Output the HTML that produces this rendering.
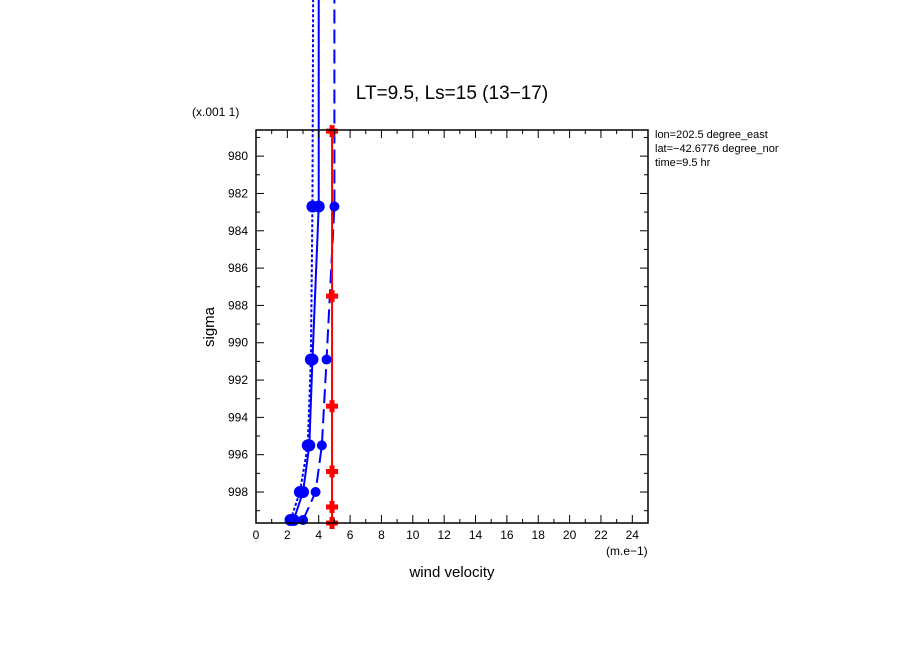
<!DOCTYPE html>
<html><head><meta charset="utf-8"><style>
body{margin:0;background:#fff;}
svg{display:block;font-family:"Liberation Sans",sans-serif;}
</style></head><body>
<svg id="chart" width="904" height="654" viewBox="0 0 904 654" xmlns="http://www.w3.org/2000/svg">
<defs><clipPath id="infoclip"><rect x="650" y="120" width="129" height="60"/></clipPath></defs>
<g id="series"></g>
<g id="axes"></g>
<text x="452" y="99" font-size="19" text-anchor="middle">LT=9.5, Ls=15 (13−17)</text>
<text x="192" y="116" font-size="12">(x.001 1)</text>
<text x="606" y="555" font-size="12">(m.e−1)</text>
<text x="452" y="577" font-size="15" text-anchor="middle">wind velocity</text>
<text x="214" y="327" font-size="15" text-anchor="middle" transform="rotate(-90 214 327)">sigma</text>
<g font-size="11" clip-path="url(#infoclip)">
<text x="655" y="138">lon=202.5 degree_east</text>
<text x="655" y="152">lat=−42.6776 degree_north</text>
<text x="655" y="166">time=9.5 hr</text>
</g>
</svg>
<script>
const xTicks=[0,2,4,6,8,10,12,14,16,18,20,22,24];
const yTicks=[980,982,984,986,988,990,992,994,996,998];
const blueLevels=[999.5,998.0,995.5,990.9,982.7,970];
const dottedA=[2.2,2.8,3.3,3.5,3.6,3.65];
const solidB=[2.4,3.0,3.4,3.6,4.0,4.0];
const dashedC=[3.0,3.8,4.2,4.5,5.0,5.0];
const redLevels=[999.66,998.8,996.9,993.4,987.5,978.66];
const redVals=[4.85,4.85,4.85,4.85,4.85,4.85];
const L=256,R=648,T=130,B=523,xMin=0,xMax=25,yMin=978.6,yMax=999.66;
const sx=v=>L+(v-xMin)/(xMax-xMin)*(R-L);
const sy=v=>T+(v-yMin)/(yMax-yMin)*(B-T);
const NS="http://www.w3.org/2000/svg";
function mk(t,a,p){const e=document.createElementNS(NS,t);for(const k in a)e.setAttribute(k,a[k]);p.appendChild(e);return e;}
const S=document.getElementById('series'),A=document.getElementById('axes');
function line(vals,levels,color,dash,name){
  const pl=mk('polyline',{points:vals.map((v,i)=>sx(v)+','+sy(levels[i])).join(' '),fill:'none',stroke:color,'stroke-width':2,'stroke-dasharray':dash},S);
  
  
}
line(dottedA,blueLevels,'#0000ff','3,2','series-dotted');
line(solidB,blueLevels,'#0000ff','none','series-solid');
line(dashedC,blueLevels,'#0000ff','14,6','series-dashed');
line(redVals,redLevels,'#ff0000','none','series-red');
[[dottedA,6],[solidB,6],[dashedC,5]].forEach(([vals,r])=>{
  vals.forEach((v,i)=>{if(blueLevels[i]<yMin)return;
    const c=mk('circle',{cx:sx(v),cy:sy(blueLevels[i]),r:r,fill:'#0000ff'},S);
    
    
  });
});
redVals.forEach((v,i)=>{
  const g=mk('g',{fill:'#ff0000'},S);
  
  
  const x=sx(v),y=sy(redLevels[i]);
  mk('rect',{x:x-6,y:y-2.5,width:12,height:5},g);
  mk('rect',{x:x-2.5,y:y-6,width:5,height:12},g);
});
const frame=mk('rect',{x:L,y:T,width:R-L,height:B-T,fill:'none',stroke:'#000','stroke-width':1.5},A);


for(let v=0;v<=25;v++){
  const len=v%2===0?8:4,x=sx(v);
  mk('line',{x1:x,y1:B,x2:x,y2:B-len,stroke:'#000'},A);
  mk('line',{x1:x,y1:T,x2:x,y2:T+len,stroke:'#000'},A);
}
xTicks.forEach(v=>{const t=mk('text',{x:sx(v),y:B+16,'font-size':12,'text-anchor':'middle'},A);t.textContent=v;
  });
for(let v=979;v<=999;v++){
  const len=v%2===0?8:4,y=sy(v);
  mk('line',{x1:L,y1:y,x2:L+len,y2:y,stroke:'#000'},A);
  mk('line',{x1:R,y1:y,x2:R-len,y2:y,stroke:'#000'},A);
}
yTicks.forEach(v=>{const t=mk('text',{x:L-8,y:sy(v)+4,'font-size':12,'text-anchor':'end'},A);t.textContent=v;
  });
</script>
</body></html>
